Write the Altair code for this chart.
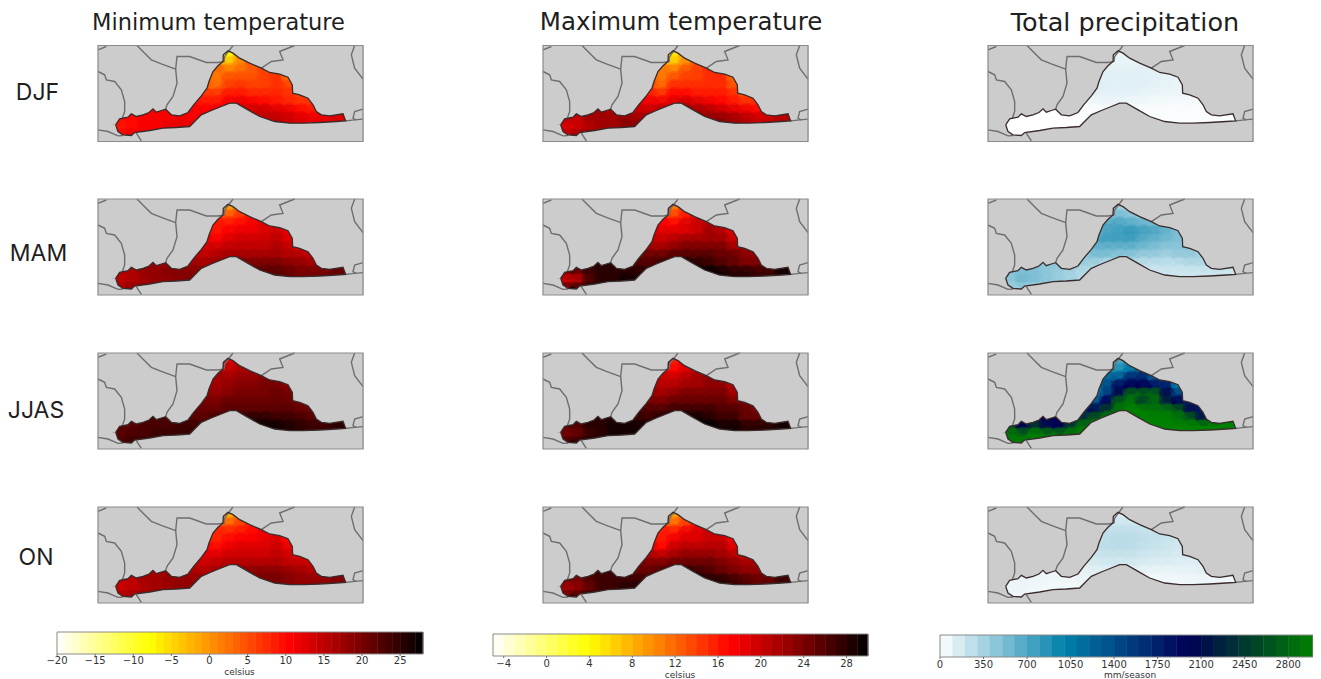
import altair as alt
import pandas as pd

# ---------- layout values ----------
PANEL_LEFT = [98, 543, 988]
PANEL_TOP = [45.5, 199, 353, 507]
PANEL_W, PANEL_H = 265, 96
COLS = ["Minimum temperature", "Maximum temperature", "Total precipitation"]
COL_X = [218.5, 681, 1125]
COL_SIZE = [22.5, 24.5, 25.5]
ROWS = ["DJF", "MAM", "JJAS", "ON"]
ROW_X = [37.5, 38.5, 36, 36]
ROW_Y = [93, 254, 411, 558]

# map units = 1/3 px inside a panel
UPPER = [(25,255),(78,255),(90,237),(115,232),(125,222),(140,230),(160,225),(178,218),(190,207),(200,217),(215,212),(228,208),
         (245,225),(270,228),(295,218),(312,195),(335,168),(352,145),(358,125),(370,95),(385,78),(400,65),(401,45),(415,33),
         (430,40),(450,55),(480,70),(515,85),(540,98),(570,103),(595,112),(608,135),(609,160),(630,165),(655,175),(670,195),
         (680,215),(695,225),(720,228),(760,222),(768,243),(822,243)]
LOWER = [(25,255),(78,255),(85,275),(100,285),(125,287),(135,278),(180,272),(220,265),(260,263),(300,260),(320,240),(335,225),
         (365,212),(395,200),(420,190),(440,190),(475,210),(510,230),(555,245),(600,250),(640,250),(690,248),(740,245),(768,243),(822,243)]
BORDERS = [
    [(25,30),(50,20)],
    [(142,17),(165,40),(185,60),(215,72),(258,88)],
    [(228,208),(232,195),(250,170),(262,130),(258,88),(262,50),(300,50),(350,68),(385,68),(403,65),(405,50),(430,17)],
    [(25,95),(45,105),(50,120),(75,125),(95,150),(105,185),(105,215),(98,235)],
    [(25,270),(55,275),(85,288),(100,287)],
    [(140,280),(155,303)],
    [(515,85),(545,65),(580,60),(570,35),(615,17)],
    [(795,17),(785,45),(795,85),(820,118)],
    [(768,243),(795,240),(820,238)],
    [(820,208),(795,215),(790,235),(800,241)],
]

# heat grid: each row (first column index, values)
GRID_X0, GRID_Y0, CELL_W, CELL_H = 78, 33, 36, 24
STARTS = [8, 8, 7, 7, 6, 6, 6, 3, 0, 0, 0]

MIN_DJF = [[-2,-8,0],[3,-3,1,5],[5,3,2,3,4,6],[4,2,5,5,5,6,7,3],[7,4,3,6,7,6,6,7,6],[9,7,7,9,9,8,8,8,7,6],
           [10,9,9,11,12,11,10,9,8,7,7],[11,11,12,11,11,12,13,14,14,14,13,12,10,9,11],
           [10,10,11,11,11,12,11,12,13,13,14,14,15,15,14,13,12,12,13],[9,10,11,11,12,12,12],[11,12,12]]
MIN_MAM = [[4,-1,5],[8,5,7,10],[11,9,9,10,11,13],[11,9,11,12,12,13,14,12],[14,12,11,13,14,14,14,15,13],[15,14,14,15,15,15,15,16,15,13],
           [16,15,16,17,17,17,17,17,16,16,15],[17,18,18,17,17,18,19,20,20,20,20,19,18,17,18],
           [16,16,18,18,19,19,19,19,20,21,21,22,22,22,21,20,20,20,21],[15,16,17,18,18,19,19],[17,18,19]]
MIN_JJAS = [[15,13,16],[17,15,16,17],[18,17,17,18,18,19],[18,17,18,19,19,20,20,19],[20,19,18,19,20,20,20,21,20],[21,20,20,21,21,21,21,21,21,20],
            [22,21,21,22,22,22,22,22,22,21,21],[23,23,23,22,22,23,23,24,25,25,24,24,23,22,23],
            [22,22,23,23,23,24,24,24,25,26,27,27,27,27,26,25,24,24,25],[22,23,23,24,24,24,24],[23,24,24]]
MIN_ON = [[3,-2,4],[7,4,6,9],[10,8,8,9,10,12],[10,8,10,11,11,12,13,10],[13,11,10,12,13,13,13,14,12],[14,13,13,14,14,14,14,15,14,12],
          [15,14,15,16,16,16,16,16,15,15,14],[16,17,17,16,16,17,18,19,19,19,19,18,17,16,17],
          [15,15,17,17,18,18,18,18,19,20,20,20,20,20,19,18,18,18,19],[14,15,16,17,17,18,18],[16,17,18]]

MAX_DJF = [[9,5,9],[11,7,10,13],[14,11,11,13,14,15],[13,11,13,14,14,15,15,12],[16,14,12,15,15,15,15,15,13],[18,16,15,17,17,16,16,16,15,13],
           [19,18,18,19,20,19,18,17,16,15,15],[22,21,21,20,20,21,21,22,22,21,20,19,18,17,19],
           [21,20,22,22,22,23,22,22,23,23,23,23,23,23,22,21,20,20,21],[19,20,21,22,22,23,23],[21,22,23]]
MAX_MAM = [[16,11,15],[18,14,16,19],[20,17,17,19,20,21],[20,19,19,19,20,22,21,19],[22,21,20,21,22,22,22,22,20],[24,22,22,23,24,24,24,24,22,23],
           [25,25,25,26,26,26,26,25,25,23,23],[28,28,27,26,26,27,28,29,28,27,26,25,24,24,25],
           [25,25,27,28,28,28,28,28,29,30,30,30,30,29,28,28,27,27,29],[20,21,26,28,28,29,29],[26,28,29]]
MAX_JJAS = [[19,16,19],[20,17,19,21],[22,20,20,21,22,23],[22,21,21,22,22,23,23,21],[24,23,22,23,24,24,24,24,22],[25,24,24,25,25,25,25,25,24,24],
            [27,26,26,27,27,27,27,26,26,25,24],[28,28,28,27,27,28,29,29,29,28,27,27,25,25,26],
            [26,26,28,28,29,29,29,29,29,30,30,30,30,29,29,28,28,28,29],[24,25,27,28,29,29,29],[27,28,29]]
MAX_ON = [[13,9,13],[15,12,14,17],[19,16,16,18,19,20],[18,16,18,19,19,20,20,18],[21,20,17,20,21,21,21,21,19],[23,21,21,22,23,23,23,22,21,20],
          [24,24,24,25,25,25,25,24,23,22,22],[27,27,26,25,25,26,27,28,27,26,25,24,23,23,24],
          [24,24,26,27,27,27,27,27,28,29,29,29,28,28,27,26,25,25,27],[22,23,25,27,27,28,28],[25,27,28]]

PR_DJF = [[80,70,80],[90,90,90,100],[100,110,110,110,110,110],[100,120,120,120,120,110,100,90],[100,120,120,120,120,110,100,90,80],[80,100,100,100,100,90,80,70,70,70],
          [40,60,80,70,60,60,50,40,40,40,40],[10,10,10,20,20,30,30,30,20,20,20,20,20,20,20],
          [0,0,0,0,5,5,10,20,10,10,10,10,10,10,10,10,10,10,10],[0,0,0,0,0,5,5],[0,0,0]]
PR_MAM = [[350,350,350],[450,550,500,450],[550,700,700,650,600,550],[550,700,750,800,750,700,600,500],[500,700,750,750,750,650,600,550,500],[450,600,600,600,600,550,500,450,450,450],
          [400,500,500,450,450,400,400,350,400,400,350],[450,450,450,400,350,300,300,300,250,250,250,250,300,300,300],
          [500,500,500,450,400,350,300,300,200,200,200,200,200,200,200,200,200,200,200],[450,550,500,450,400,350,300],[400,400,350]]
PR_JJAS = [[800,700,900],[1000,900,1100,1400],[1000,1200,1300,1700,1700,1300],[1000,1400,1900,2000,2000,1900,1700,1000],[900,900,1500,2100,2800,2800,2800,2100,1500],
           [1000,1400,2000,2800,2900,2500,2800,2300,2000,1700],[1700,2100,2500,2900,3000,3000,2900,2900,2700,2100,1800],
           [2000,2000,2050,2400,2700,2900,3000,3000,3000,3000,3000,2900,2700,2200,2500],
           [2600,2000,2400,2100,2000,2500,2900,3000,3000,3000,3000,3000,3000,3000,3000,3000,3000,3000,3000],
           [2900,2800,3000,2900,2900,2950,3000],[2950,3000,3000]]
PR_ON = [[150,130,160],[180,200,200,200],[200,250,250,250,230,220],[200,250,280,280,260,240,220,200],[180,240,260,270,260,240,220,200,180],[150,200,220,220,220,200,180,170,160,160],
         [120,160,180,180,170,150,140,130,130,120,120],[70,70,70,100,110,120,120,110,90,80,80,90,100,110,100],
         [70,70,70,60,60,60,80,90,60,50,50,50,50,60,60,60,60,60,60],[70,70,60,50,50,50,60],[70,60,50]]

FIELDS = [[MIN_DJF, MIN_MAM, MIN_JJAS, MIN_ON], [MAX_DJF, MAX_MAM, MAX_JJAS, MAX_ON], [PR_DJF, PR_MAM, PR_JJAS, PR_ON]]

# colour bars
HOT_STOPS = [0, 0.254, 0.445, 0.635, 0.82, 1]
HOT_COLORS = ["#ffffff", "#ffff00", "#ff8000", "#ff0000", "#800000", "#000000"]
OCEAN_STOPS = [0, 1/3, 2/3, 1]
OCEAN_COLORS = ["#ffffff", "#0080aa", "#000055", "#008000"]
BAR_LEFT = [57, 493, 940]
BAR_RIGHT = [423, 868, 1313]
BAR_TOP = [632, 634, 635]
BAR_BOTTOM = [654, 656, 657]
DOMAIN = [(-20, 28), (-5, 30), (0, 3000)]
BAR_STEP = [1, 1, 100]
TICKS = [[-20,-15,-10,-5,0,5,10,15,20,25], [-4,0,4,8,12,16,20,24,28], [0,350,700,1050,1400,1750,2100,2450,2800]]
TICK_TEXT_Y = [660.5, 663.5, 664.5]
UNITS = ["celsius", "celsius", "mm/season"]
UNIT_X = [239.5, 680, 1130]
UNIT_Y = [671.5, 674.5, 675]

FONT_TITLE = "DejaVu Sans"
FONT_ROW = "Inter"
FONT_SMALL = "DejaVu Sans"

# ---------- tables ----------
sx = alt.Scale(domain=[8, 1313], nice=False, zero=False)
sy = alt.Scale(domain=[679, 8], nice=False, zero=False)
X = alt.X("x:Q", scale=sx, axis=None)
Y = alt.Y("y:Q", scale=sy, axis=None, stack=None)

panels = []
for c, left in enumerate(PANEL_LEFT):
    for r, top in enumerate(PANEL_TOP):
        panels.append((c, r, left, top))

def to_px(left, top, p):
    return left + (p[0] - 25) / 3, top + (p[1] - 17) / 3

rows = []
for c, r, left, top in panels:
    rows.append(dict(x=left, x2=left + PANEL_W, y=top, y2=top + PANEL_H))
frames = pd.DataFrame(rows)

rows = []
for pid, (c, r, left, top) in enumerate(panels):
    for i, p in enumerate(UPPER):
        px, py = to_px(left, top, p)
        rows.append(dict(pid=pid, x=px, y=py, y2=top))
upper_df = pd.DataFrame(rows)
rows = []
for pid, (c, r, left, top) in enumerate(panels):
    for i, p in enumerate(LOWER):
        px, py = to_px(left, top, p)
        rows.append(dict(pid=pid, x=px, y=py, y2=top + PANEL_H))
lower_df = pd.DataFrame(rows)

rows = []
for pid, (c, r, left, top) in enumerate(panels):
    for b, line in enumerate(BORDERS):
        for i, p in enumerate(line):
            px, py = to_px(left, top, p)
            rows.append(dict(g=f"{pid}-{b}", o=i, x=px, y=py))
border_df = pd.DataFrame(rows)

OUTLINE = UPPER[1:-1] + LOWER[1:-2][::-1]
rows = []
for pid, (c, r, left, top) in enumerate(panels):
    for i, p in enumerate(OUTLINE + [OUTLINE[0]]):
        px, py = to_px(left, top, p)
        rows.append(dict(pid=pid, o=i, x=px, y=py))
outline_df = pd.DataFrame(rows)

def heat_table(c):
    out = []
    for r, top in enumerate(PANEL_TOP):
        for j, vals in enumerate(FIELDS[c][r]):
            for k, v in enumerate(vals):
                i = STARTS[j] + k
                xc, yc = to_px(PANEL_LEFT[c], top, (GRID_X0 + CELL_W * (i + .5), GRID_Y0 + CELL_H * (j + .5)))
                hw, hh = CELL_W / 3 * .75, CELL_H / 3 * .75
                out.append(dict(x=xc - hw, x2=xc + hw, y=yc - hh, y2=yc + hh, xc=xc, yc=yc, v=v, j=j))
    return pd.DataFrame(out)

def color_scale(c):
    lo, hi = DOMAIN[c]
    stops, cols = (HOT_STOPS, HOT_COLORS) if c < 2 else (OCEAN_STOPS, OCEAN_COLORS)
    return alt.Scale(domain=[lo + s * (hi - lo) for s in stops], range=cols, clamp=True, interpolate="rgb")

layers = []
layers.append(alt.Chart(frames).mark_rect(color="#cccccc").encode(X, Y, x2="x2:Q", y2="y2:Q"))

for c in range(3):
    df = heat_table(c)
    col = alt.Color("v:Q", scale=color_scale(c), legend=None)
    layers.append(alt.Chart(df).mark_rect(strokeWidth=0).encode(X, Y, x2="x2:Q", y2="y2:Q", color=col))
    layers.append(alt.Chart(df[df.j < 10]).mark_circle(size=250, opacity=.4, strokeWidth=0).encode(
        alt.X("xc:Q", scale=sx, axis=None), alt.Y("yc:Q", scale=sy, axis=None), color=col))

for d in (upper_df, lower_df):
    layers.append(alt.Chart(d).mark_area(color="#cccccc", opacity=1).encode(
        X, Y, y2="y2:Q", detail="pid:N"))

layers.append(alt.Chart(border_df).mark_line(color="#6e6e6e", strokeWidth=1.4).encode(X, Y, order="o:Q", detail="g:N"))
layers.append(alt.Chart(outline_df).mark_line(color="#3a2c2c", strokeWidth=1.3).encode(X, Y, order="o:Q", detail="pid:N"))
layers.append(alt.Chart(frames).mark_rect(fill=None, stroke="#8a8a8a", strokeWidth=1.2).encode(X, Y, x2="x2:Q", y2="y2:Q"))

# colour bars
for c in range(3):
    lo, hi = DOMAIN[c]
    L, R = BAR_LEFT[c], BAR_RIGHT[c]
    k = (R - L) / (hi - lo)
    rows = []
    v = lo
    while v < hi:
        rows.append(dict(x=L + (v - lo) * k, x2=L + (v + BAR_STEP[c] - lo) * k + .4, y=BAR_TOP[c], y2=BAR_BOTTOM[c], v=v + BAR_STEP[c] / 2))
        v += BAR_STEP[c]
    df = pd.DataFrame(rows)
    layers.append(alt.Chart(df).mark_rect(strokeWidth=0).encode(
        X, Y, x2="x2:Q", y2="y2:Q", color=alt.Color("v:Q", scale=color_scale(c), legend=None)))
    fr = pd.DataFrame([dict(x=L, x2=R, y=BAR_TOP[c], y2=BAR_BOTTOM[c])])
    layers.append(alt.Chart(fr).mark_rect(fill=None, stroke="#8a8a8a", strokeWidth=1).encode(X, Y, x2="x2:Q", y2="y2:Q"))
    tk = pd.DataFrame([dict(x=L + (t - lo) * k, y=BAR_BOTTOM[c], y2=BAR_BOTTOM[c] + 2,
                            yt=TICK_TEXT_Y[c], text=f"{t}".replace("-", "\u2212")) for t in TICKS[c]])
    layers.append(alt.Chart(tk).mark_rule(color="#555555", strokeWidth=.8).encode(X, Y, y2="y2:Q"))
    layers.append(alt.Chart(tk).mark_text(font=FONT_SMALL, fontSize=10, color="#333333", baseline="middle").encode(
        X, alt.Y("yt:Q", scale=sy, axis=None), text="text:N"))

units = pd.DataFrame(dict(x=UNIT_X, y=UNIT_Y, text=UNITS))
layers.append(alt.Chart(units).mark_text(font=FONT_SMALL, fontSize=9, color="#333333", baseline="middle").encode(X, Y, text="text:N"))

for c in range(3):
    t = pd.DataFrame(dict(x=[COL_X[c]], y=[23], text=[COLS[c]]))
    layers.append(alt.Chart(t).mark_text(font=FONT_TITLE, fontSize=COL_SIZE[c], color="#1f1f1f", baseline="middle").encode(X, Y, text="text:N"))
rowl = pd.DataFrame(dict(x=ROW_X, y=ROW_Y, text=ROWS))
layers.append(alt.Chart(rowl).mark_text(font=FONT_ROW, fontSize=23, color="#1f1f1f", baseline="middle").encode(X, Y, text="text:N"))

chart = alt.layer(*layers).resolve_scale(color="independent").properties(
    width=1305, height=671, padding=0, autosize=alt.AutoSizeParams(type="none")
).configure_view(stroke=None)

chart.save("out.html", embed_options={"renderer": "svg", "actions": False})
